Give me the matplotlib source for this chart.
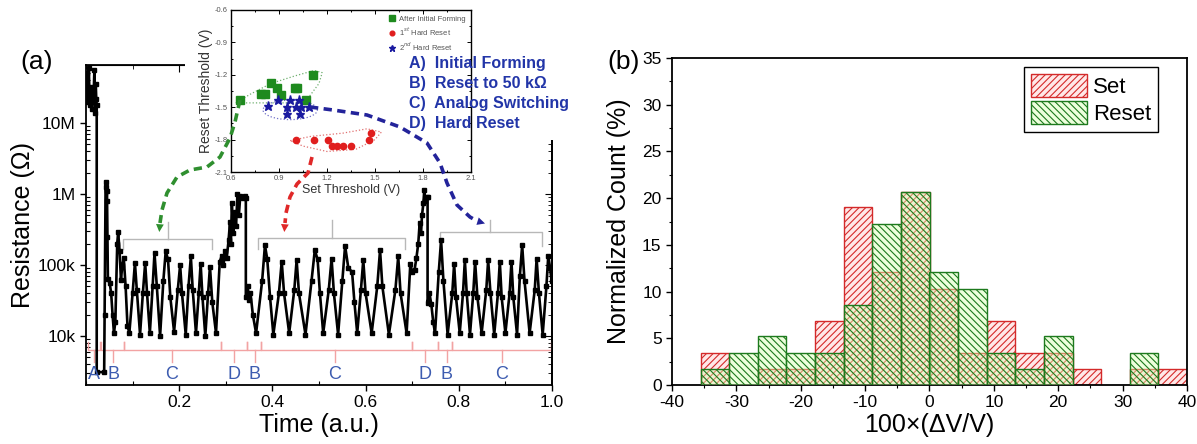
import numpy as np
import matplotlib
matplotlib.use('Agg')
import matplotlib.pyplot as plt
from matplotlib.patches import Rectangle, Ellipse, Polygon, FancyArrowPatch
from matplotlib.lines import Line2D
from matplotlib.ticker import FixedLocator, LogLocator, NullFormatter, MultipleLocator

plt.rcParams['font.family'] = ['Liberation Sans', 'DejaVu Sans']
plt.rcParams['hatch.linewidth'] = 0.8
plt.rcParams['axes.unicode_minus'] = False
plt.rcParams['mathtext.fontset'] = 'custom'
plt.rcParams['mathtext.rm'] = 'Liberation Sans'

W, H = 1197, 444

# ---------------- Panel (a): resistance vs time ----------------
time = [0.002, 0.004, 0.006, 0.008, 0.010, 0.012, 0.014, 0.016, 0.018, 0.019, 0.021, 0.022, 0.023,
        0.023, 0.039, 0.040, 0.042, 0.043, 0.044, 0.045, 0.046, 0.047, 0.051, 0.054, 0.057, 0.060,
        0.063, 0.067, 0.069, 0.072, 0.075, 0.078, 0.081, 0.085, 0.089, 0.093,
        0.100, 0.105, 0.109, 0.116, 0.122, 0.127, 0.131, 0.137, 0.143, 0.147, 0.152, 0.159,
        0.166, 0.171, 0.176, 0.181, 0.189, 0.197, 0.202, 0.206, 0.214, 0.220, 0.225, 0.229, 0.236,
        0.242, 0.246, 0.250, 0.256, 0.262, 0.266, 0.271, 0.279,
        0.287, 0.291, 0.295, 0.299, 0.302, 0.306, 0.309, 0.311, 0.313, 0.316, 0.319, 0.322, 0.325,
        0.328, 0.331, 0.336, 0.341, 0.343, 0.343, 0.347, 0.350, 0.353, 0.358, 0.365,
        0.378, 0.384, 0.389, 0.395, 0.402, 0.414, 0.420, 0.425, 0.436, 0.447, 0.452, 0.457, 0.471,
        0.484, 0.491, 0.497, 0.502, 0.509, 0.521, 0.527, 0.532, 0.541, 0.550, 0.556, 0.563, 0.571,
        0.576, 0.582, 0.590, 0.595, 0.600, 0.613, 0.625, 0.631, 0.636, 0.650, 0.664, 0.670, 0.675, 0.688,
        0.696, 0.700, 0.705, 0.709, 0.713, 0.716, 0.719, 0.721, 0.724, 0.726, 0.728, 0.731, 0.733,
        0.733, 0.737, 0.741, 0.745, 0.749,
        0.757, 0.762, 0.767, 0.776, 0.786, 0.790, 0.794, 0.802, 0.809, 0.813, 0.817, 0.824,
        0.831, 0.835, 0.840, 0.849, 0.859, 0.863, 0.868, 0.876, 0.884, 0.888, 0.892, 0.900,
        0.909, 0.913, 0.917, 0.925, 0.931, 0.936, 0.941, 0.952, 0.963, 0.967, 0.972, 0.980,
        0.988, 0.992, 0.996, 0.999]
res_kohm = [50000, 20000, 60000, 18000, 32000, 16000, 28000, 20000, 56000, 14000, 35000, 22000, 18000,
            3.1, 3.1, 20, 1260, 1480, 800, 1120, 250, 63, 55, 40, 20, 11,
            16, 200, 290, 160, 62, 100, 126, 50, 14, 11,
            40, 107, 45, 10.5, 40, 107, 40, 11, 50, 148, 50, 10,
            60, 155, 120, 35, 11.5, 45, 100, 40, 10.5, 50, 132, 45, 11,
            40, 105, 35, 10, 40, 95, 30, 11,
            112, 132, 100, 158, 126, 224, 400, 200, 740, 280, 560, 355, 1000,
            500, 930, 890, 930, 890, 35, 50, 32, 40, 20, 11,
            60, 190, 120, 35, 10.5, 40, 112, 40, 11, 45, 117, 40, 10.5,
            60, 162, 120, 40, 11, 45, 123, 40, 10.5, 60, 186, 90, 80,
            30, 11, 45, 117, 40, 11, 50, 162, 50, 10.5, 45, 132, 40, 11,
            105, 80, 85, 125, 200, 390, 280, 500, 740, 1150, 800, 910, 910,
            29, 40, 28, 16, 11,
            80, 224, 60, 10.5, 40, 105, 35, 11, 40, 117, 40, 10.5,
            40, 112, 35, 11, 45, 117, 40, 10.5, 40, 112, 35, 11,
            40, 112, 35, 10.5, 70, 190, 60, 11, 45, 123, 40, 10.5,
            50, 135, 90, 60]

seg_labels = ['A', 'B', 'C', 'D', 'B', 'C', 'D', 'B', 'C']
seg_start = [0.004, 0.033, 0.082, 0.290, 0.345, 0.375, 0.700, 0.755, 0.785]
seg_end = [0.030, 0.082, 0.290, 0.345, 0.375, 0.700, 0.755, 0.785, 0.998]
seg_mid = [0.017, 0.058, 0.184, 0.317, 0.362, 0.534, 0.727, 0.774, 0.892]

cbr_start = [0.080, 0.370, 0.760]
cbr_end = [0.271, 0.685, 0.978]
cbr_mid = [0.177, 0.527, 0.867]

# inset data
green_x = [0.654, 0.79, 0.81, 0.85, 0.887, 0.91, 0.998, 1.01, 1.066, 1.115]
green_y = [-1.436, -1.38, -1.38, -1.28, -1.318, -1.383, -1.318, -1.318, -1.43, -1.204]
red_x = [1.008, 1.12, 1.204, 1.23, 1.26, 1.297, 1.348, 1.462, 1.472]
red_y = [-1.807, -1.80, -1.80, -1.863, -1.863, -1.863, -1.863, -1.80, -1.74]
blue_x = [0.833, 0.895, 0.95, 0.95, 0.97, 1.008, 1.025, 1.03, 1.04, 1.09]
blue_y = [-1.49, -1.436, -1.50, -1.56, -1.436, -1.50, -1.436, -1.56, -1.50, -1.50]

# ---------------- Panel (b): histogram ----------------
bin_left = [-40.0, -35.56, -31.11, -26.67, -22.22, -17.78, -13.33, -8.89, -4.44,
            0.0, 4.44, 8.89, 13.33, 17.78, 22.22, 26.67, 31.11, 35.56]
set_pct = [0, 3.4, 0, 1.7, 1.7, 6.9, 19.0, 12.1, 20.7, 10.3, 3.4, 6.9, 3.4, 3.4, 1.7, 0, 1.7, 1.7]
reset_pct = [0, 1.7, 3.4, 5.2, 3.4, 3.4, 8.6, 17.2, 20.7, 12.1, 10.3, 3.4, 1.7, 5.2, 0, 0, 3.4, 0]
bin_w = 80 / 18

fig = plt.figure(figsize=(W / 100, H / 100), dpi=100)


def fr(x0, y0, x1, y1):
    return [x0 / W, 1 - y1 / H, (x1 - x0) / W, (y1 - y0) / H]


def px(x, y):
    return (x / W, 1 - y / H)


# ---- main axes (a)
ax1 = fig.add_axes(fr(86, 65, 552, 385))
res = np.array(res_kohm) * 1e3
ax1.plot(time, res, '-s', color='black', lw=1.9, ms=3.2, zorder=3)
ax1.set_yscale('log')
ax1.set_xlim(0, 1.0)
ax1.set_ylim(10 ** 3.31, 10 ** 7.817)
ax1.yaxis.set_major_locator(FixedLocator([1e4, 1e5, 1e6, 1e7]))
ax1.set_yticklabels(['10k', '100k', '1M', '10M'])
ax1.yaxis.set_minor_locator(LogLocator(base=10, subs=np.arange(2, 10)))
ax1.yaxis.set_minor_formatter(NullFormatter())
ax1.xaxis.set_major_locator(FixedLocator([0.2, 0.4, 0.6, 0.8, 1.0]))
ax1.xaxis.set_minor_locator(MultipleLocator(0.1))
ax1.tick_params(which='major', direction='out', length=4, width=1, labelsize=12.5)
ax1.tick_params(which='minor', direction='in', length=3, width=0.8)
ax1.set_xlabel('Time (a.u.)', fontsize=18, labelpad=2)
ax1.set_ylabel('Resistance (\u03a9)', fontsize=18, labelpad=2)
for s in ax1.spines.values():
    s.set_linewidth(1.3)
sec_r = ax1.secondary_yaxis('right')
sec_r.yaxis.set_major_locator(FixedLocator([1e4, 1e5, 1e6, 1e7]))
sec_r.yaxis.set_minor_locator(LogLocator(base=10, subs=np.arange(2, 10)))
sec_r.tick_params(which='both', direction='in', labelright=False)
sec_r.tick_params(which='major', length=5)
sec_r.tick_params(which='minor', length=3)
sec_r.spines['right'].set_linewidth(1.3)
sec_t = ax1.secondary_xaxis('top')
sec_t.xaxis.set_major_locator(FixedLocator([0.2, 0.4, 0.6, 0.8, 1.0]))
sec_t.xaxis.set_minor_locator(MultipleLocator(0.1))
sec_t.tick_params(which='both', direction='in', labeltop=False)
sec_t.tick_params(which='major', length=5)
sec_t.tick_params(which='minor', length=3)

# pink segment brackets and labels
pink = '#f2a3a3'
yb, yl, yt = 10 ** 3.80, 10 ** 3.92, 10 ** 3.63
for lab, t0, t1, tm in zip(seg_labels, seg_start, seg_end, seg_mid):
    ax1.plot([t0, t0, t1, t1], [yl, yb, yb, yl], color=pink, lw=1.0, zorder=2)
    ax1.plot([tm, tm], [yb, yt], color=pink, lw=1.0, zorder=2)
    ax1.text(tm, 10 ** 3.46, lab, color='#3d5cb0', fontsize=13, ha='center', va='center')

# gray curly brackets over C regions
gray = '#b8b8b8'
cb_base = [10 ** 5.36, 10 ** 5.38, 10 ** 5.47]
cb_leg = [10 ** 5.22, 10 ** 5.22, 10 ** 5.27]
cb_tip = [10 ** 5.60, 10 ** 5.63, 10 ** 5.64]
for t0, t1, tm, b, l, tp in zip(cbr_start, cbr_end, cbr_mid, cb_base, cb_leg, cb_tip):
    ax1.plot([t0, t0, t1, t1], [l, b, b, l], color=gray, lw=1.0, zorder=2)
    ax1.plot([tm, tm], [b, tp], color=gray, lw=1.0, zorder=2)

# white masks behind inset
fig.add_artist(Rectangle(px(185, 140), 380 / W, 140 / H, transform=fig.transFigure,
                         facecolor='white', edgecolor='none', zorder=1))
fig.add_artist(Rectangle(px(185, 183), 295 / W, 44 / H, transform=fig.transFigure,
                         facecolor='white', edgecolor='none', zorder=1))

# ---- inset
axi = fig.add_axes(fr(231, 10, 471, 172), zorder=3)
axi.set_facecolor('white')
axi.plot(green_x, green_y, 's', color='#1e8a1e', ms=5.5, label='After Initial Forming', zorder=3)
axi.plot(red_x, red_y, 'o', color='#e01e1e', ms=4.5, label='1$^{st}$ Hard Reset', zorder=3)
axi.plot(blue_x, blue_y, '*', color='#1a1aa0', ms=6.5, label='2$^{nd}$ Hard Reset', zorder=3)
axi.add_patch(Polygon([(0.63, -1.46), (0.72, -1.38), (0.85, -1.28), (1.0, -1.21), (1.12, -1.16),
                       (1.17, -1.18), (1.15, -1.28), (1.09, -1.40), (1.04, -1.46)], closed=True,
                      fill=False, edgecolor='#70b070', ls=':', lw=0.9))
axi.add_patch(Ellipse((0.97, -1.525), 0.34, 0.18, fill=False, edgecolor='#7070c8', ls=':', lw=0.9))
axi.add_patch(Polygon([(0.97, -1.81), (1.1, -1.77), (1.3, -1.74), (1.45, -1.70), (1.54, -1.73),
                       (1.5, -1.80), (1.38, -1.89), (1.2, -1.91), (1.05, -1.86)], closed=True,
                      fill=False, edgecolor='#e07070', ls=':', lw=0.9))
axi.set_xlim(0.6, 2.1)
axi.set_ylim(-2.1, -0.6)
axi.set_xticks([0.6, 0.9, 1.2, 1.5, 1.8, 2.1])
axi.set_yticks([-2.1, -1.8, -1.5, -1.2, -0.9, -0.6])
axi.xaxis.set_minor_locator(MultipleLocator(0.15))
axi.yaxis.set_minor_locator(MultipleLocator(0.15))
axi.tick_params(which='both', direction='in', top=True, right=True, labelsize=5.5,
                labelcolor='#555555', length=3, width=0.7)
axi.tick_params(axis='x', pad=2.5)
axi.tick_params(axis='y', pad=2.5)
axi.tick_params(which='minor', length=1.5)
axi.set_xlabel('Set Threshold (V)', fontsize=9, labelpad=1, color='#333333')
axi.set_ylabel('Reset Threshold (V)', fontsize=10, labelpad=1, color='#333333')
for s in axi.spines.values():
    s.set_linewidth(1.0)
lg = axi.legend(loc='upper right', bbox_to_anchor=(1.0, 1.0), fontsize=5.5, frameon=False,
                handletextpad=0.3, borderaxespad=0.3, labelspacing=0.35, markerscale=0.75,
                handlelength=1.2)
for t in lg.get_texts():
    t.set_color('#555555')


# dashed arrows
def dashed_arrow(pts, color):
    xs = [p[0] / W for p in pts[:-1]]
    ys = [1 - p[1] / H for p in pts[:-1]]
    fig.add_artist(Line2D(xs, ys, transform=fig.transFigure, color=color, lw=2.6,
                          ls=(0, (2.3, 1.5)), zorder=6, solid_capstyle='butt'))
    fig.add_artist(FancyArrowPatch(px(*pts[-2]), px(*pts[-1]), transform=fig.transFigure,
                                   arrowstyle='-|>', mutation_scale=14, color=color, lw=0,
                                   shrinkA=0, shrinkB=0, zorder=6))


dashed_arrow([(240, 100), (235, 122), (230, 138), (220, 157), (207, 167), (190, 170), (177, 177),
              (167, 193), (162, 210), (160, 223), (159.3, 232)], '#2f8f2f')
dashed_arrow([(312, 157), (308, 173), (297, 184), (290, 197), (286, 213), (285, 223), (284.3, 232)],
             '#e02828')
dashed_arrow([(310, 107), (333, 110), (367, 115), (400, 127), (427, 143), (440, 163), (447, 183),
              (457, 205), (470, 217), (477, 221), (485, 223.5)], '#23239a')

# blue text block
for i, s in enumerate(['A)  Initial Forming', 'B)  Reset to 50 k\u03a9', 'C)  Analog Switching',
                       'D)  Hard Reset']):
    fig.text(409 / W, 1 - (63.3 + 20 * i) / H, s, color='#2235a8', fontsize=11.5,
             fontweight='bold', ha='left', va='center', zorder=7)

fig.text(37 / W, 1 - 62 / H, '(a)', fontsize=19, ha='center', va='center')
fig.text(624 / W, 1 - 62 / H, '(b)', fontsize=19, ha='center', va='center')

# ---- panel (b)
ax2 = fig.add_axes(fr(672, 58, 1187, 385))
sl = [b for b, v in zip(bin_left, set_pct) if v > 0]
sv = [v for v in set_pct if v > 0]
rl = [b for b, v in zip(bin_left, reset_pct) if v > 0]
rv = [v for v in reset_pct if v > 0]
ax2.bar(sl, sv, width=bin_w, align='edge', facecolor=(1.0, 0.80, 0.80, 0.45), edgecolor='#d42a2a',
        hatch='/////', lw=1.0, zorder=2, label='Set')
ax2.bar(rl, rv, width=bin_w, align='edge', facecolor=(0.85, 1.0, 0.70, 0.45), edgecolor='#1d7a1d',
        hatch='\\\\\\\\\\', lw=1.0, zorder=3, label='Reset')
ax2.set_xlim(-40, 40)
ax2.set_ylim(0, 35)
ax2.xaxis.set_major_locator(MultipleLocator(10))
ax2.xaxis.set_minor_locator(MultipleLocator(5))
ax2.yaxis.set_major_locator(MultipleLocator(5))
ax2.yaxis.set_minor_locator(MultipleLocator(2.5))
ax2.tick_params(which='major', direction='out', length=4, width=1, labelsize=12.5)
ax2.tick_params(which='minor', direction='out', length=2, width=0.8)
ax2.set_xlabel('100\u00d7(\u0394V/V)', fontsize=18, labelpad=2)
ax2.set_ylabel('Normalized Count (%)', fontsize=18, labelpad=8)
for s in ax2.spines.values():
    s.set_linewidth(1.3)
leg = ax2.legend(loc='upper right', bbox_to_anchor=(0.944, 0.972), fontsize=16, fancybox=False,
                 edgecolor='black', framealpha=1, handlelength=2.5, handleheight=1.2,
                 borderpad=0.3, labelspacing=0.15, handletextpad=0.3, borderaxespad=0)
leg.get_frame().set_linewidth(1.0)

fig.savefig('out.png', dpi=100)
